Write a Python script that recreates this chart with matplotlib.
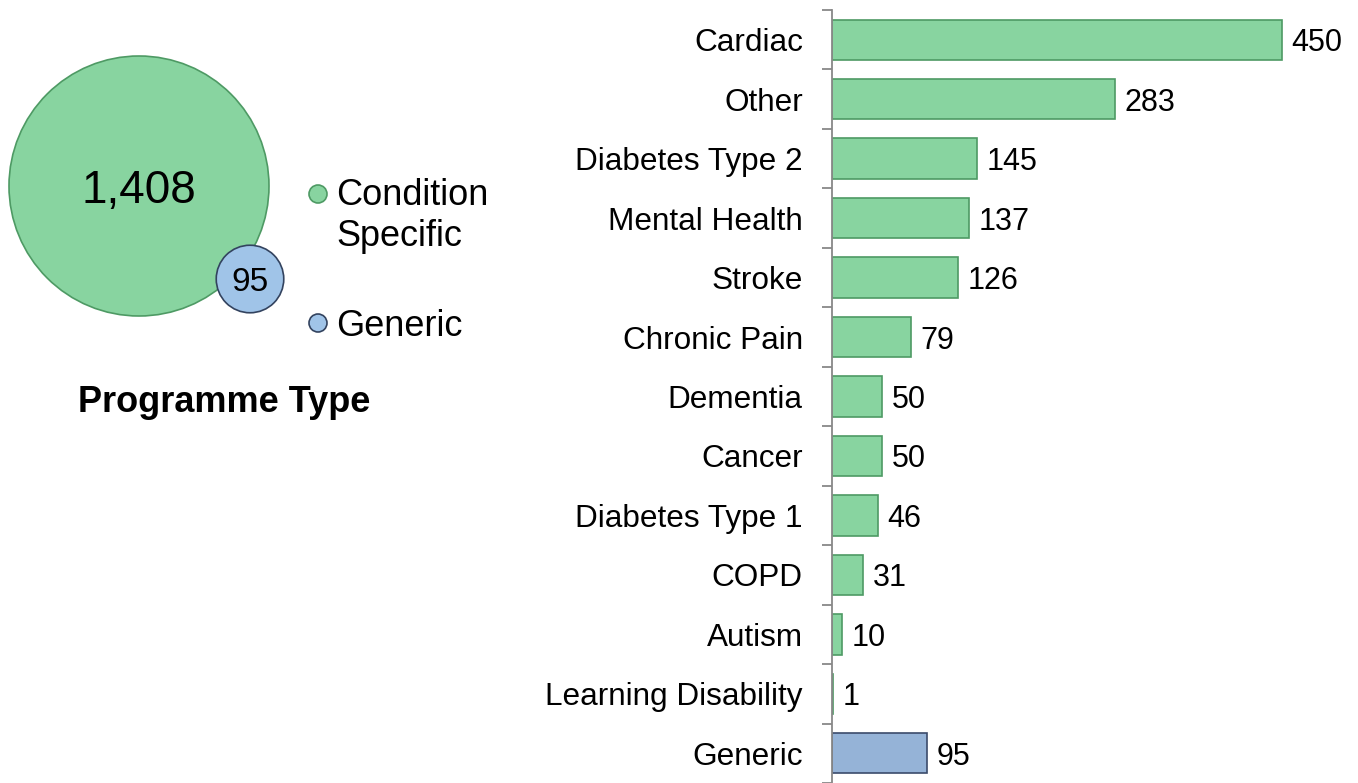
import matplotlib.pyplot as plt
import matplotlib.patches as mpatches
import numpy as np

plt.rcParams['font.family'] = ['Liberation Sans', 'DejaVu Sans']

categories = ['Cardiac', 'Other', 'Diabetes Type 2', 'Mental Health', 'Stroke',
              'Chronic Pain', 'Dementia', 'Cancer', 'Diabetes Type 1', 'COPD',
              'Autism', 'Learning Disability', 'Generic']
counts = [450, 283, 145, 137, 126, 79, 50, 50, 46, 31, 10, 1, 95]

types = ['Condition\nSpecific', 'Generic']
type_counts = [1408, 95]

green, green_edge = '#88D4A0', '#4E9A64'
blue_bar, blue_bar_edge = '#95B3D7', '#3B4B6B'
blue_dot, blue_dot_edge = '#A0C4E8', '#33435F'

W, H = 1358, 783
fig = plt.figure(figsize=(W / 100, H / 100), dpi=100)

# bar chart on the right
ax = fig.add_axes([832 / W, 0, (W - 832) / W, 1 - 10 / H])
y = np.arange(len(categories))
colors = [green] * (len(categories) - 1) + [blue_bar]
edges = [green_edge] * (len(categories) - 1) + [blue_bar_edge]
ax.barh(y, counts, height=0.68, color=colors, edgecolor=edges, linewidth=1.2)
for yi, c in zip(y, counts):
    ax.annotate(str(c), (c, yi), xytext=(7, 0), textcoords='offset points',
                va='center_baseline', ha='left', fontsize=22)
ax.set_xlim(0, W - 832)
ax.set_ylim(12 + 23 / 60, -0.5)
ax.set_yticks(y)
ax.set_yticklabels(categories, fontsize=22.7)
ax.set_yticks(np.arange(-0.5, len(categories), 1), minor=True)
ax.tick_params(axis='y', which='major', length=0, pad=21)
ax.tick_params(axis='y', which='minor', length=7, color='#888888', width=1.3)
ax.set_xticks([])
for s in ['top', 'right', 'bottom']:
    ax.spines[s].set_visible(False)
ax.spines['left'].set_color('#888888')
ax.spines['left'].set_linewidth(1.3)

# bubble chart on the left (pixel coordinates)
bx = fig.add_axes([0, 0, 543 / W, 1])
bx.set_xlim(0, 543)
bx.set_ylim(H, 0)
bx.set_aspect('equal')
bx.axis('off')
k = 130 / np.sqrt(type_counts[0])
centers = [(139, 186), (250, 279)]
fills = [green, blue_dot]
outlines = [green_edge, blue_dot_edge]
sizes = [33, 24]
for (cx, cy), v, f, e, fs in zip(centers, type_counts, fills, outlines, sizes):
    bx.add_patch(mpatches.Circle((cx, cy), k * np.sqrt(v), facecolor=f,
                                 edgecolor=e, linewidth=1.2))
    bx.text(cx, cy, f'{v:,}', ha='center', va='center_baseline', fontsize=fs)

legend_pos = [(318, 194), (318, 323)]
for (lx, ly), lab, f, e in zip(legend_pos, types, fills, outlines):
    bx.add_patch(mpatches.Circle((lx, ly), 9, facecolor=f, edgecolor=e, linewidth=1.2))
    if '\n' in lab:
        bx.text(lx + 18, ly - 16, lab, ha='left', va='top', fontsize=26,
                linespacing=1.22)
    else:
        bx.text(lx + 18, ly, lab, ha='left', va='center_baseline', fontsize=26)

bx.text(224, 402, 'Programme Type', ha='center', va='center', fontsize=26,
        fontweight='bold')

fig.savefig('out.png', dpi=100)
